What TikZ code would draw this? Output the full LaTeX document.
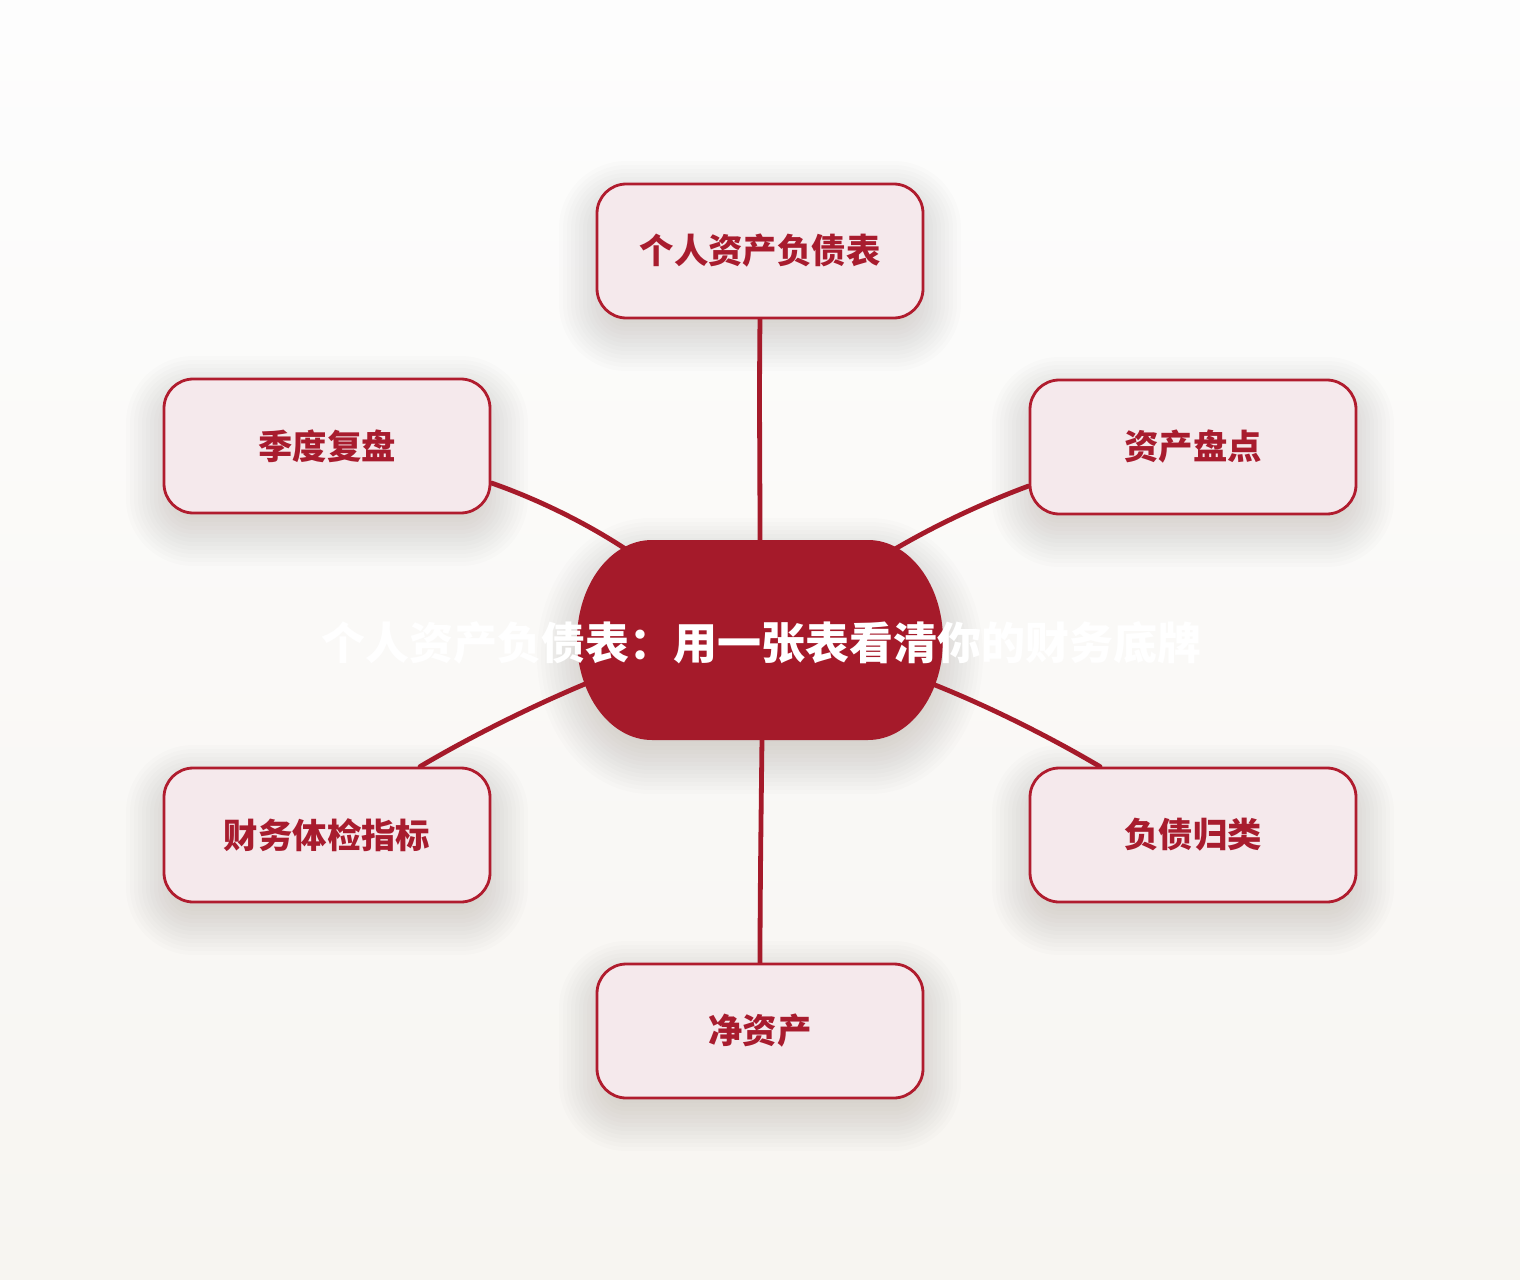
\documentclass[tikz,border=0pt]{standalone}
\usepackage{fontspec}
\newfontfamily\cjk{Noto Sans CJK SC}
\usetikzlibrary{calc}
\definecolor{deepred}{RGB}{165,26,42}
\definecolor{boxfill}{RGB}{245,233,236}
\definecolor{boxline}{RGB}{176,28,46}
\definecolor{boxtext}{RGB}{168,28,46}
\definecolor{bgtop}{RGB}{253,253,253}
\definecolor{bgbot}{RGB}{247,245,241}
\definecolor{shadowc}{RGB}{60,52,40}
\pgfdeclarelayer{bgfill}
\pgfdeclarelayer{shadow}
\pgfdeclarelayer{lines}
\pgfsetlayers{bgfill,shadow,lines,main}
% soft shadow of a topic box centred at (#1,#2)
\newcommand\boxshade[2]{%
  \foreach \e in {-26,-22,...,38}{%
    \pgfmathsetmacro\rr{max(2,22+0.75*\e)}%
    \fill[shadowc, opacity=0.011, rounded corners=\rr pt]
      ({#1-163-\e},{#2-67-\e+16}) rectangle ({#1+163+\e},{#2+67+\e+16});
  }}
\newcommand\centershade{%
  \foreach \e in {-26,-22,...,38}{%
    \pgfmathsetmacro\rx{75+\e}\pgfmathsetmacro\ry{100+\e}%
    \fill[shadowc, opacity=0.012]
      ({760-110},{540-\e+16}) -- ({760+110},{540-\e+16})
      .. controls ({870+0.5523*\rx},{540-\e+16}) and ({870+\rx},{656-0.5523*\ry}) .. ({870+\rx},656)
      .. controls ({870+\rx},{656+0.5523*\ry}) and ({870+0.5523*\rx},{740+\e+16}) .. (870,{740+\e+16})
      -- (650,{740+\e+16})
      .. controls ({650-0.5523*\rx},{740+\e+16}) and ({650-\rx},{656+0.5523*\ry}) .. ({650-\rx},656)
      .. controls ({650-\rx},{656-0.5523*\ry}) and ({650-0.5523*\rx},{540-\e+16}) .. (650,{540-\e+16}) -- cycle;
  }}
\begin{document}
\begin{tikzpicture}[x=0.75pt,y=-0.75pt,
  topicbox/.style={draw=boxline, line width=2.1pt, fill=boxfill, rounded corners=22pt,
    minimum width=244.5pt, minimum height=100.5pt, inner sep=0pt,
    font=\cjk\bfseries\fontsize{25.8pt}{30pt}\selectfont, text=boxtext},
  link/.style={draw=deepred, line width=3.6pt, line cap=round}]
\useasboundingbox (0,0) rectangle (1520,1280);
\begin{pgfonlayer}{bgfill}
\shade[top color=bgtop, bottom color=bgbot] (0,0) rectangle (1520,1280);
\end{pgfonlayer}

% topic boxes
\node[topicbox] (top) at (760,251) {个人资产负债表};
\node[topicbox] (ul) at (327,446) {季度复盘};
\node[topicbox] (ur) at (1193,447) {资产盘点};
\node[topicbox] (ll) at (327,835) {财务体检指标};
\node[topicbox] (lr) at (1193,835) {负债归类};
\node[topicbox] (bot) at (760,1031) {净资产};

\begin{pgfonlayer}{shadow}
\boxshade{760}{250}\boxshade{327}{445}\boxshade{1193}{446}
\boxshade{327}{834}\boxshade{1193}{834}\boxshade{760}{1030}
\centershade
\end{pgfonlayer}

% center anchor points
\coordinate (cT) at (760,542);
\coordinate (cUL) at (630,552);
\coordinate (cUR) at (890,552);
\coordinate (cLL) at (585,684);
\coordinate (cLR) at (935,685);
\coordinate (cB) at (762,738);

% connectors
\begin{pgfonlayer}{lines}
\draw[link] (top.south) .. controls (759,400) and (760,470) .. (cT);
\draw[link] ($(ul.east)+(0,37)$) .. controls (540,500) and (590,525) .. (cUL);
\draw[link] ($(ur.west)+(0,39)$) .. controls (980,504) and (930,528) .. (cUR);
\draw[link] ($(ll.north)+(93,0)$) .. controls (470,737) and (530,707) .. (cLL);
\draw[link] ($(lr.north)+(-93,0)$) .. controls (1050,737) and (990,707) .. (cLR);
\draw[link] (cB) .. controls (761,820) and (760,900) .. (bot.north);
\end{pgfonlayer}

% center shape
\fill[deepred]
  (652,540) -- (868,540) .. controls (909.4,540) and (943,584.8) .. (943,640)
  .. controls (943,695.2) and (909.4,740) .. (868,740) -- (652,740)
  .. controls (610.6,740) and (577,695.2) .. (577,640)
  .. controls (577,584.8) and (610.6,540) .. (652,540) -- cycle;
\node[font=\cjk\bfseries\fontsize{33pt}{38pt}\selectfont, text=white, inner sep=0pt] (center) at (761,643) {个人资产负债表：用一张表看清你的财务底牌};
\end{tikzpicture}
\end{document}
